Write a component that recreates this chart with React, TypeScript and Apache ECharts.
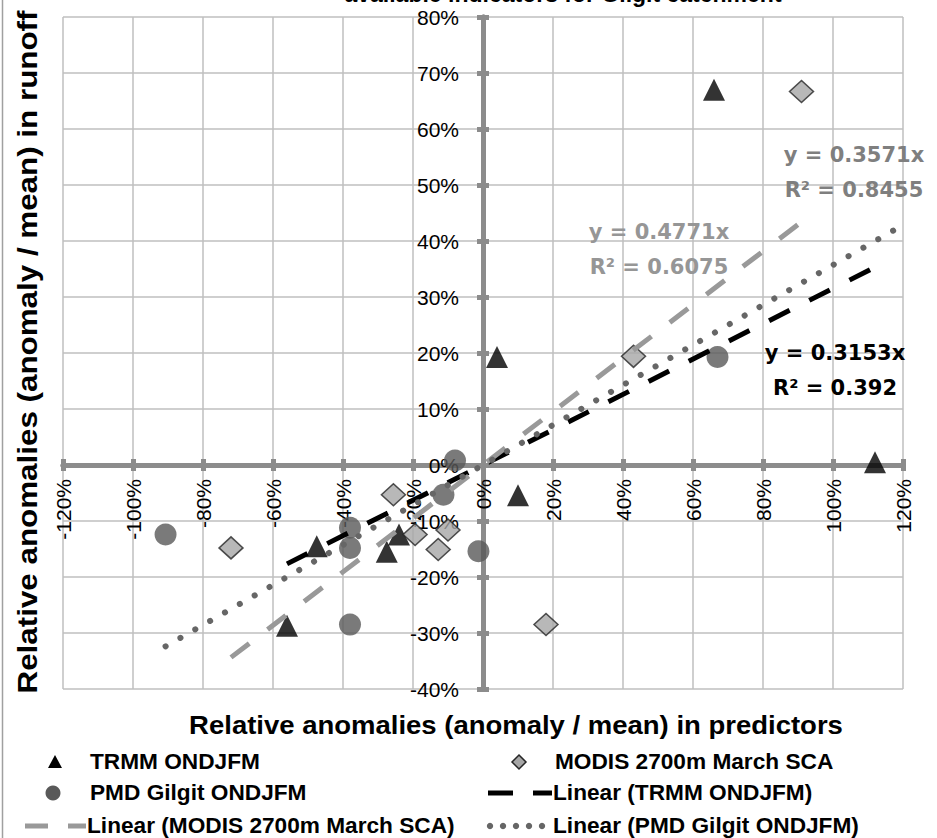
import React, { useEffect, useRef } from "react";
import * as echarts from "echarts";

// ---- data (percent) ----
const trmmX = [66, 4, 112, 10, -56, -47.5, -27.5, -24];
const trmmY = [67, 19.3, 0.5, -5.4, -28.7, -14.5, -15.5, -12.4];

const modisX = [91, 43, 18, -72, -25.6, -19.4, -10, -12.8];
const modisY = [66.7, 19.4, -28.5, -14.8, -5.3, -12.4, -11.6, -15.1];

const pmdX = [67, -8, -11.3, -1.3, -38, -38, -38, -90.7];
const pmdY = [19.3, 0.8, -5.3, -15.4, -11.2, -14.8, -28.5, -12.4];

// trendlines through origin: slope and R²
const trendNames = ["TRMM ONDJFM", "MODIS 2700m March SCA", "PMD Gilgit ONDJFM"];
const trendSlopes = [0.3153, 0.4771, 0.3571];
const trendR2 = ["0.392", "0.6075", "0.8455"];
const pmdForecastEnd = 120; // Excel forward forecast of the PMD trendline

const xMin = -120, xMax = 120, xStep = 20;
const yMin = -40, yMax = 80, yStep = 10;

const FONT = "'Liberation Sans', Arial, sans-serif";
const EQFONT = "'DejaVu Sans', sans-serif";

function zip(xs: number[], ys: number[]) {
  return xs.map((x, i) => [x, ys[i]]);
}
function trend(xs: number[], slope: number, end?: number) {
  const lo = Math.min(...xs);
  const hi = end !== undefined ? end : Math.max(...xs);
  return [
    [lo, slope * lo],
    [hi, slope * hi],
  ];
}

// layout
const W = 937, H = 838;
const G = { left: 63, right: 34, top: 17, bottom: 149 };

export default function App() {
  const ref = useRef<HTMLDivElement>(null);
  useEffect(() => {
    const chart = echarts.init(ref.current!, null, { renderer: "svg" });
    const axisGray = "#8c8c8c";
    const gridRect = { ...G, containLabel: false };
    const pct = (v: number) => `${v}%`;

    // put axes through the origin using offsets (pixels from default position)
    const plotW = W - G.left - G.right;
    const plotH = H - G.top - G.bottom;
    const xOffset = -(plotH * (0 - yMin)) / (yMax - yMin); // move x axis up to y=0
    const yOffset = -(plotW * (0 - xMin)) / (xMax - xMin); // move y axis right to x=0

    const baseX = { type: "value", min: xMin, max: xMax, interval: xStep, position: "bottom", offset: xOffset };
    const baseY = { type: "value", min: yMin, max: yMax, interval: yStep, position: "left", offset: yOffset };
    const lineStyle = { color: axisGray, width: 5 };
    const tickStyle = { color: axisGray, width: 5 };

    const legendRows = [762, 793, 826];
    const legendText = (text: string, x: number, y: number) => ({
      type: "text",
      x,
      y,
      scaleX: 1.03,
      style: {
        text,
        font: `bold 22px ${FONT}`,
        fill: "#000",
        verticalAlign: "middle",
        align: "left",
      },
    });

    const option: any = {
      animation: false,
      backgroundColor: "#fff",
      grid: [gridRect, gridRect],
      xAxis: [
        {
          ...baseX,
          gridIndex: 0,
          axisLine: { onZero: false, lineStyle },
          axisTick: { show: true, length: 6, lineStyle: tickStyle },
          axisLabel: {
            rotate: 90,
            margin: 14,
            formatter: pct,
            color: "#000",
            fontSize: 21,
            fontFamily: FONT,
          },
          splitLine: { show: true, lineStyle: { color: "#bfbfbf", width: 1.5 } },
        },
        {
          ...baseX,
          gridIndex: 1,
          axisLine: { onZero: false, lineStyle },
          axisTick: { show: true, inside: true, length: 6, lineStyle: tickStyle },
          axisLabel: { show: false },
          splitLine: { show: false },
        },
      ],
      yAxis: [
        {
          ...baseY,
          gridIndex: 0,
          axisLine: { onZero: false, lineStyle },
          axisTick: { show: true, length: 6, lineStyle: tickStyle },
          axisLabel: {
            margin: 24,
            formatter: pct,
            color: "#000",
            fontSize: 21,
            fontFamily: FONT,
          },
          splitLine: { show: true, lineStyle: { color: "#bfbfbf", width: 1.5 } },
        },
        {
          ...baseY,
          gridIndex: 1,
          axisLine: { onZero: false, lineStyle },
          axisTick: { show: true, inside: true, length: 6, lineStyle: tickStyle },
          axisLabel: { show: false },
          splitLine: { show: false },
        },
      ],
      series: [
        {
          name: "TRMM ONDJFM",
          type: "scatter",
          xAxisIndex: 0,
          yAxisIndex: 0,
          symbol: "triangle",
          symbolSize: 22,
          itemStyle: { color: "#000" },
          data: zip(trmmX, trmmY),
          z: 3,
        },
        {
          name: "MODIS 2700m March SCA",
          type: "scatter",
          xAxisIndex: 0,
          yAxisIndex: 0,
          symbol: "diamond",
          symbolSize: [24, 22],
          itemStyle: { color: "#a6a6a6", borderColor: "#262626", borderWidth: 1.5 },
          data: zip(modisX, modisY),
          z: 3,
        },
        {
          name: "PMD Gilgit ONDJFM",
          type: "scatter",
          xAxisIndex: 0,
          yAxisIndex: 0,
          symbol: "circle",
          symbolSize: 22,
          itemStyle: { color: "#595959" },
          data: zip(pmdX, pmdY),
          z: 3,
        },
        {
          name: `Linear (${trendNames[0]})`,
          type: "line",
          xAxisIndex: 0,
          yAxisIndex: 0,
          symbol: "none",
          lineStyle: { color: "#000", width: 5, type: [23, 22] },
          data: trend(trmmX, trendSlopes[0]),
          z: 4,
        },
        {
          name: `Linear (${trendNames[1]})`,
          type: "line",
          xAxisIndex: 0,
          yAxisIndex: 0,
          symbol: "none",
          lineStyle: { color: "#999999", width: 5, type: [23, 23] },
          data: trend(modisX, trendSlopes[1]),
          z: 4,
        },
        {
          name: `Linear (${trendNames[2]})`,
          type: "line",
          xAxisIndex: 0,
          yAxisIndex: 0,
          symbol: "none",
          lineStyle: { color: "#666666", width: 6, type: [0.1, 17], cap: "round" },
          data: trend(pmdX, trendSlopes[2], pmdForecastEnd),
          z: 4,
        },
      ],
      graphic: [
        // left border of the chart area
        { type: "line", shape: { x1: 2.5, y1: 0, x2: 2.5, y2: 838 }, style: { stroke: "#a0a0a0", lineWidth: 1.5 } },
        // cut-off title (as in the reference)
        {
          type: "text",
          x: 563,
          y: -6,
          style: {
            text: "available indicators for Gilgit catchment",
            font: `bold 23px ${FONT}`,
            fill: "#000",
            align: "center",
            verticalAlign: "middle",
          },
        },
        // axis titles
        {
          type: "text",
          x: 516,
          y: 725,
          scaleX: 1.1,
          style: {
            text: "Relative anomalies (anomaly / mean) in predictors",
            font: `bold 25px ${FONT}`,
            fill: "#000",
            align: "center",
            verticalAlign: "middle",
          },
        },
        {
          type: "text",
          x: 27,
          y: 352,
          rotation: Math.PI / 2,
          scaleX: 1.12,
          style: {
            text: "Relative anomalies (anomaly / mean) in runoff",
            font: `bold 28px ${FONT}`,
            fill: "#000",
            align: "center",
            verticalAlign: "middle",
          },
        },
        // trendline equations
        ...[
          { i: 2, x: 854, y: 155, c: "#7f7f7f" },
          { i: 1, x: 659, y: 232, c: "#969696" },
          { i: 0, x: 835, y: 353, c: "#000" },
        ].flatMap((e) => [
          {
            type: "text",
            x: e.x,
            y: e.y,
            z: 10,
            style: {
              text: `y = ${trendSlopes[e.i]}x`,
              font: `bold 21px ${EQFONT}`,
              fill: e.c,
              align: "center",
              verticalAlign: "middle",
            },
          },
          {
            type: "text",
            x: e.x,
            y: e.y + 35,
            z: 10,
            style: {
              text: `R² = ${trendR2[e.i]}`,
              font: `bold 21px ${EQFONT}`,
              fill: e.c,
              align: "center",
              verticalAlign: "middle",
            },
          },
        ]),
        // legend
        {
          type: "polygon",
          shape: { points: [[55, legendRows[0] - 7], [62, legendRows[0] + 6], [48, legendRows[0] + 6]] },
          style: { fill: "#000" },
        },
        legendText("TRMM ONDJFM", 90, legendRows[0]),
        {
          type: "polygon",
          shape: { points: [[519, legendRows[0] - 7], [526, legendRows[0]], [519, legendRows[0] + 7], [512, legendRows[0]]] },
          style: { fill: "#a6a6a6", stroke: "#262626", lineWidth: 1.5 },
        },
        legendText("MODIS 2700m March SCA", 555, legendRows[0]),
        { type: "circle", shape: { cx: 53, cy: legendRows[1], r: 7.5 }, style: { fill: "#595959" } },
        legendText("PMD Gilgit ONDJFM", 90, legendRows[1]),
        { type: "line", shape: { x1: 488, y1: legendRows[1], x2: 513, y2: legendRows[1] }, style: { stroke: "#000", lineWidth: 5 } },
        { type: "line", shape: { x1: 533, y1: legendRows[1], x2: 552, y2: legendRows[1] }, style: { stroke: "#000", lineWidth: 5 } },
        legendText(`Linear (${trendNames[0]})`, 553, legendRows[1]),
        { type: "line", shape: { x1: 25, y1: legendRows[2], x2: 48, y2: legendRows[2] }, style: { stroke: "#999", lineWidth: 5 } },
        { type: "line", shape: { x1: 68, y1: legendRows[2], x2: 86, y2: legendRows[2] }, style: { stroke: "#999", lineWidth: 5 } },
        legendText(`Linear (${trendNames[1]})`, 87, legendRows[2]),
        ...[490, 503, 516, 529, 542].map((cx) => ({
          type: "circle",
          shape: { cx, cy: legendRows[2], r: 3.2 },
          style: { fill: "#666" },
        })),
        legendText(`Linear (${trendNames[2]})`, 553, legendRows[2]),
      ],
    };
    chart.setOption(option);
    return () => chart.dispose();
  }, []);
  return (
    <div
      ref={ref}
      style={{ position: "fixed", left: 0, top: 0, width: W, height: H }}
    />
  );
}
